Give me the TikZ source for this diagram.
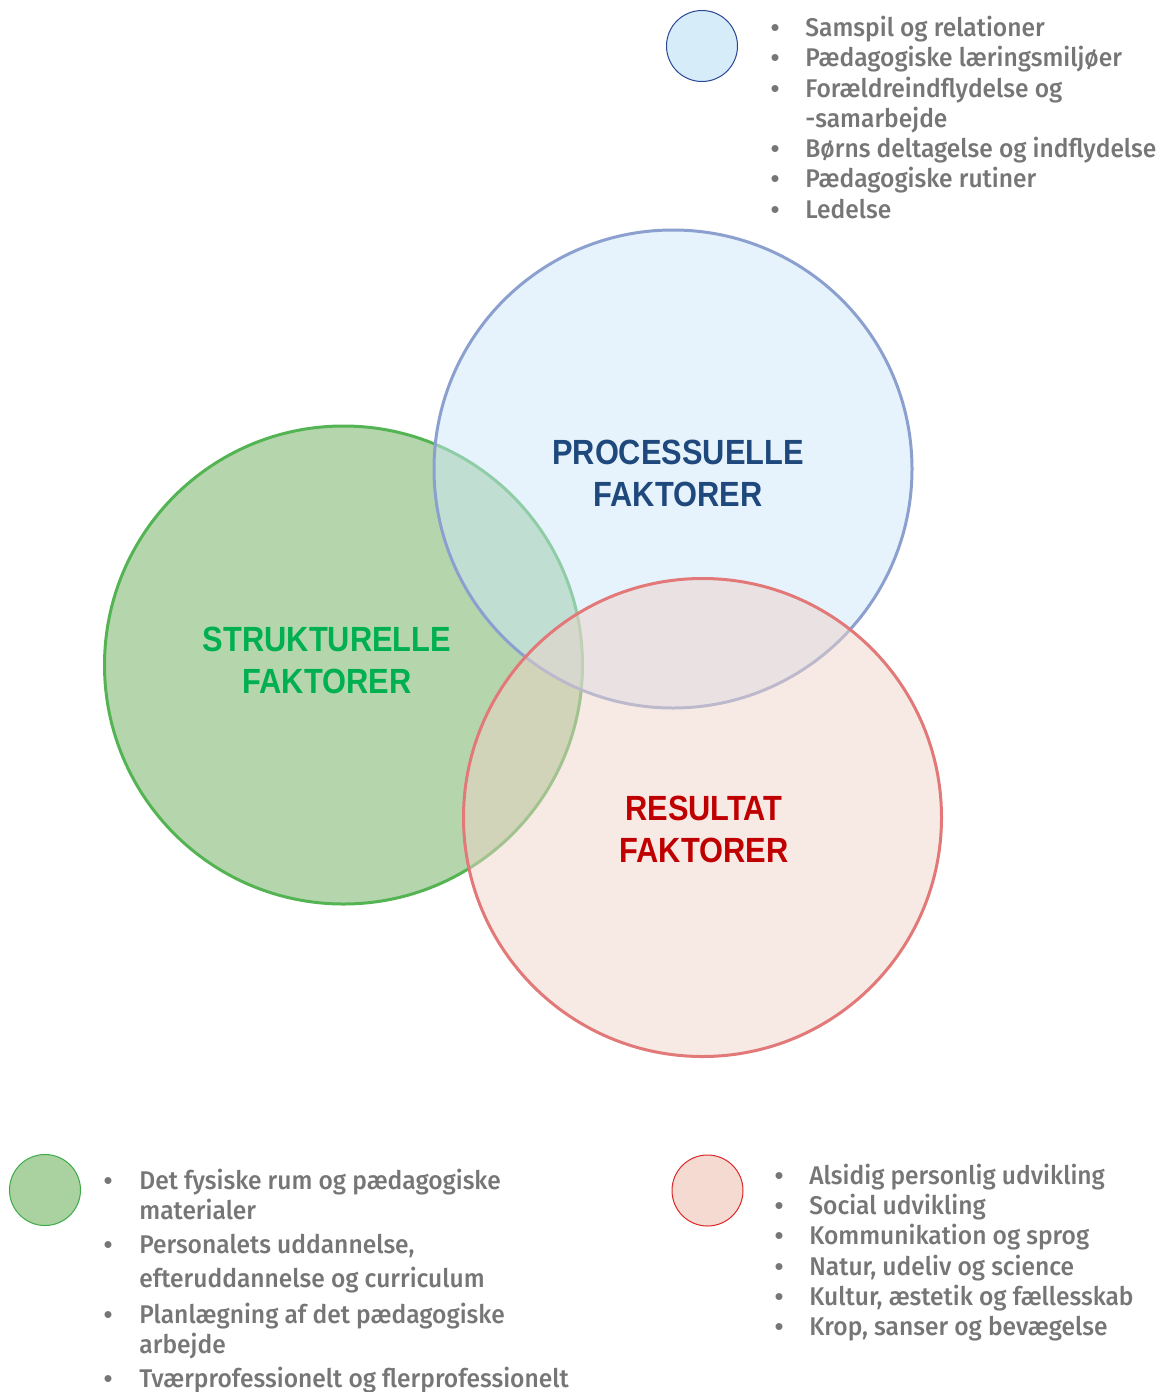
\documentclass[tikz,border=0pt]{standalone}
\usepackage{fontspec}
\setmainfont{Liberation Sans}
\newfontfamily\headfont{Liberation Sans}[FakeStretch=0.88]
\newfontfamily\itemfont{Fira Sans}[UprightFont={* Medium}, FakeStretch=0.96]
\newfontfamily\bulfont{Liberation Sans}
\definecolor{itemgray}{RGB}{118,118,118}
\definecolor{gfill}{RGB}{107,173,91}
\definecolor{bfill}{RGB}{205,231,249}
\definecolor{rfill}{RGB}{239,211,201}
\definecolor{gline}{RGB}{84,180,84}
\definecolor{bline}{RGB}{140,160,208}
\definecolor{rline}{RGB}{226,120,120}
\definecolor{ghead}{RGB}{0,176,80}
\definecolor{bhead}{RGB}{31,73,125}
\definecolor{rhead}{RGB}{192,0,0}
\definecolor{gsmall}{RGB}{170,210,160}
\definecolor{bsmall}{RGB}{214,236,249}
\definecolor{rsmall}{RGB}{245,218,210}
\definecolor{gsline}{RGB}{60,170,70}
\definecolor{bsline}{RGB}{40,70,150}
\definecolor{rsline}{RGB}{220,40,40}
\tikzset{
  bigc/.style={circle, minimum size=239pt, inner sep=0pt, line width=1.5pt, fill opacity=0.5},
  smallc/.style={circle, minimum size=35.5pt, inner sep=0pt, line width=0.5pt},
  head/.style={align=center, font=\headfont\bfseries\fontsize{17.5}{21}\selectfont},
  itm/.style={anchor=base west, inner sep=0pt, text=itemgray, font=\itemfont\fontsize{12.8}{15}\selectfont},
  bul/.style={anchor=base, inner sep=0pt, text=itemgray, font=\bulfont\fontsize{12.8}{15}\selectfont}
}
\begin{document}
\begin{tikzpicture}[x=0.5pt,y=-0.5pt]
\useasboundingbox (0,0) rectangle (1167,1392);
% big circles
\node[bigc, fill=gfill, draw=gline] (G) at (343.5,665) {};
\node[bigc, fill=bfill, draw=bline] (B) at (673,469) {};
\node[bigc, fill=rfill, draw=rline] (R) at (702.5,817.5) {};
% labels
\node[head, text=bhead] (Bl) at (678,473.5) {PROCESSUELLE\\FAKTORER};
\node[head, text=ghead] (Gl) at (327,660.5) {STRUKTURELLE\\FAKTORER};
\node[head, text=rhead] (Rl) at (704,829.5) {RESULTAT\\FAKTORER};
% small legend circles
\node[smallc, fill=bsmall, draw=bsline] (Bs) at (702,46) {};
\node[smallc, fill=gsmall, draw=gsline] (Gs) at (45,1190) {};
\node[smallc, fill=rsmall, draw=rsline] (Rs) at (707.5,1190.5) {};
% top list
\node[bul] (tb1) at (775,36) {•};
\node[itm] (tt1) at (805,36) {Samspil og relationer};
\node[bul] (tb2) at (775,66) {•};
\node[itm] (tt2) at (805,66) {Pædagogiske læringsmiljøer};
\node[bul] (tb3) at (775,97) {•};
\node[itm] (tt3) at (805,97) {Forældreindflydelse og};
\node[itm] (tt3b) at (805,127) {-samarbejde};
\node[bul] (tb4) at (775,157) {•};
\node[itm] (tt4) at (805,157) {Børns deltagelse og indflydelse};
\node[bul] (tb5) at (775,187) {•};
\node[itm] (tt5) at (805,187) {Pædagogiske rutiner};
\node[bul] (tb6) at (775,218) {•};
\node[itm] (tt6) at (805,218) {Ledelse};
% bottom-left list
\node[bul] (lb1) at (108,1189) {•};
\node[itm] (lt1) at (139,1189) {Det fysiske rum og pædagogiske};
\node[itm] (lt1b) at (139,1219) {materialer};
\node[bul] (lb2) at (108,1253) {•};
\node[itm] (lt2) at (139,1253) {Personalets uddannelse,};
\node[itm] (lt2b) at (139,1287) {efteruddannelse og curriculum};
\node[bul] (lb3) at (108,1323) {•};
\node[itm] (lt3) at (139,1323) {Planlægning af det pædagogiske};
\node[itm] (lt3b) at (139,1353) {arbejde};
\node[bul] (lb4) at (108,1387) {•};
\node[itm] (lt4) at (139,1387) {Tværprofessionelt og flerprofessionelt};
% bottom-right list
\node[bul] (rb1) at (779,1184) {•};
\node[itm] (rt1) at (809,1184) {Alsidig personlig udvikling};
\node[bul] (rb2) at (779,1214) {•};
\node[itm] (rt2) at (809,1214) {Social udvikling};
\node[bul] (rb3) at (779,1244) {•};
\node[itm] (rt3) at (809,1244) {Kommunikation og sprog};
\node[bul] (rb4) at (779,1275) {•};
\node[itm] (rt4) at (809,1275) {Natur, udeliv og science};
\node[bul] (rb5) at (779,1305) {•};
\node[itm] (rt5) at (809,1305) {Kultur, æstetik og fællesskab};
\node[bul] (rb6) at (779,1335) {•};
\node[itm] (rt6) at (809,1335) {Krop, sanser og bevægelse};
\end{tikzpicture}
\end{document}
